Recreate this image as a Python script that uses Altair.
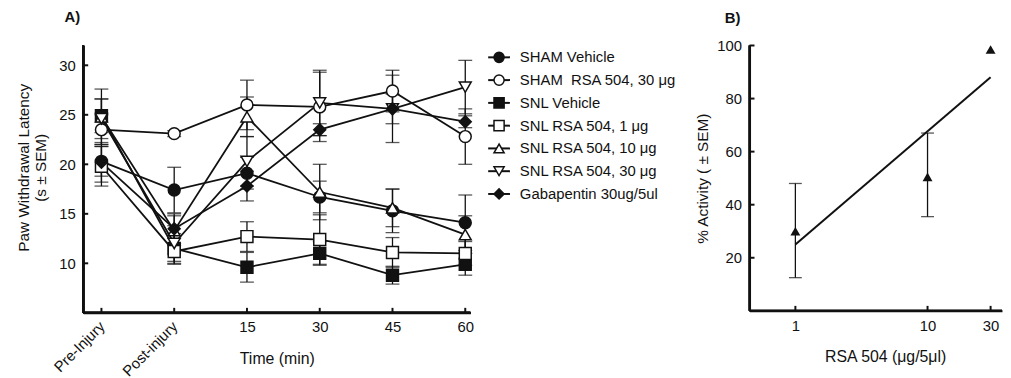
import json
import altair as alt
import pandas as pd

FONT = "Liberation Sans"
INK = "#111111"

# ---------------- Panel A data ----------------
time_pos = [0, 1, 2, 3, 4, 5]
time_labels = ["Pre-Injury", "Post-injury", "15", "30", "45", "60"]

series_names = [
    "SHAM Vehicle",
    "SHAM\u00a0 RSA 504, 30 μg",
    "SNL Vehicle",
    "SNL RSA 504, 1 μg",
    "SNL RSA 504, 10 μg",
    "SNL RSA 504, 30 μg",
    "Gabapentin 30ug/5ul",
]
series_shapes = ["circle", "circle", "square", "square", "triangle-up", "triangle-down", "diamond"]
series_fills = [INK, "white", INK, "white", "white", "white", INK]

sham_vehicle_mean = [20.3, 17.4, 19.1, 16.7, 15.3, 14.1]
sham_vehicle_sem = [1.5, 2.3, 1.6, 1.6, 2.2, 2.8]
sham_rsa30_mean = [23.5, 23.1, 26.0, 25.8, 27.4, 22.8]
sham_rsa30_sem = [1.5, 0.3, 2.5, 3.5, 2.1, 2.8]
snl_vehicle_mean = [24.9, 11.5, 9.6, 11.0, 8.8, 9.9]
snl_vehicle_sem = [1.7, 1.5, 1.5, 1.2, 0.9, 1.1]
snl_rsa1_mean = [19.8, 11.2, 12.7, 12.4, 11.1, 11.0]
snl_rsa1_sem = [2.0, 1.3, 1.5, 2.5, 1.5, 1.2]
snl_rsa10_mean = [24.8, 13.3, 24.8, 17.2, 15.6, 12.9]
snl_rsa10_sem = [2.8, 1.5, 2.0, 2.8, 1.9, 1.9]
snl_rsa30_mean = [24.6, 12.0, 20.3, 26.2, 25.6, 27.8]
snl_rsa30_sem = [2.0, 1.8, 2.5, 3.3, 1.5, 2.7]
gabapentin_mean = [20.2, 13.5, 17.8, 23.5, 25.6, 24.3]
gabapentin_sem = [2.0, 1.5, 1.5, 0.6, 3.4, 0.6]

a_yticks = [10, 15, 20, 25, 30]

# ---------------- Panel B data ----------------
doses = [1, 10, 30]
activity = [30.0, 50.5, 98.5]
activity_lo = [12.5, 35.5, None]
activity_hi = [48.0, 67.0, None]
fit_dose = [1, 30]
fit_activity = [25.0, 88.0]
b_yticks = [20, 40, 60, 80, 100]

# ---------------- tables ----------------
means = [sham_vehicle_mean, sham_rsa30_mean, snl_vehicle_mean, snl_rsa1_mean,
         snl_rsa10_mean, snl_rsa30_mean, gabapentin_mean]
sems = [sham_vehicle_sem, sham_rsa30_sem, snl_vehicle_sem, snl_rsa1_sem,
        snl_rsa10_sem, snl_rsa30_sem, gabapentin_sem]

rows = []
for name, m, s in zip(series_names, means, sems):
    for t, v, e in zip(time_pos, m, s):
        rows.append({"series": name, "t": t, "v": v, "lo": v - e, "hi": v + e})
df_a = pd.DataFrame(rows)
caps_a = pd.concat([
    df_a[["series", "t", "lo"]].rename(columns={"lo": "v"}),
    df_a[["series", "t", "hi"]].rename(columns={"hi": "v"}),
])
xt_a = pd.DataFrame({"t": time_pos})
yt_a = pd.DataFrame({"v": a_yticks})
rot_a = pd.DataFrame({"t": time_pos[:2], "label": time_labels[:2]})

df_b = pd.DataFrame({"d": doses, "v": activity, "lo": activity_lo, "hi": activity_hi})
df_b_err = df_b.dropna()
caps_b = pd.concat([
    df_b_err[["d", "lo"]].rename(columns={"lo": "v"}),
    df_b_err[["d", "hi"]].rename(columns={"hi": "v"}),
])
fit_b = pd.DataFrame({"d": fit_dose, "v": fit_activity})
xt_b = pd.DataFrame({"d": doses})
yt_b = pd.DataFrame({"v": b_yticks})

legend_df = pd.DataFrame({
    "series": series_names,
    "row": list(range(len(series_names))),
})

# ---------------- shared styles ----------------
shape_scale = alt.Scale(domain=series_names, range=series_shapes)
fill_scale = alt.Scale(domain=series_names, range=series_fills)

A_W, A_H = 391, 270
B_W, B_H = 255, 268

xa_scale = alt.Scale(domain=[-0.25, 5.07], nice=False, zero=False)
ya_scale = alt.Scale(domain=[5, 32], nice=False, zero=False)

label_expr = json.dumps(time_labels) + "[datum.value]"

xa_axis = alt.Axis(
    values=time_pos[2:], labelExpr=label_expr, labelAngle=0, tickSize=0,
    labelPadding=7, grid=False, title="Time (min)", titleY=51, domain=True,
    titleFontSize=16, titleBaseline="alphabetic",
)
ya_axis = alt.Axis(
    values=a_yticks, tickSize=0, labelPadding=8, grid=False, domain=True,
    title=["Paw Withdrawal Latency", "(s ± SEM)"], titleLineHeight=18,
    titlePadding=10, titleY=123, titleFontSize=15.5,
)

x_a = alt.X("t:Q", scale=xa_scale)
y_a = alt.Y("v:Q", scale=ya_scale)

err_a = alt.Chart(df_a).mark_rule(color=INK, strokeWidth=1.3).encode(
    x=alt.X("t:Q", scale=xa_scale, axis=xa_axis),
    y=alt.Y("lo:Q", scale=ya_scale, axis=ya_axis),
    y2="hi:Q",
)
cap_a = alt.Chart(caps_a).mark_tick(color=INK, orient="horizontal", size=14, thickness=1.3).encode(
    x=x_a, y=y_a
)
line_a = alt.Chart(df_a).mark_line(color=INK, strokeWidth=1.8).encode(
    x=x_a, y=y_a, detail="series:N"
)
pts_a = alt.Chart(df_a).mark_point(filled=True, stroke=INK, strokeWidth=1.5, opacity=1, size=145).encode(
    x=x_a, y=y_a,
    shape=alt.Shape("series:N", scale=shape_scale, legend=None),
    fill=alt.Fill("series:N", scale=fill_scale, legend=None),
)
xtick_a = alt.Chart(xt_a).mark_rule(color=INK, strokeWidth=2).encode(
    x=x_a, y=alt.value(A_H - 5), y2=alt.value(A_H),
)
ytick_a = alt.Chart(yt_a).mark_rule(color=INK, strokeWidth=2).encode(
    y=y_a, x=alt.value(0), x2=alt.value(5),
)
xdom_a = alt.Chart(xt_a).mark_rule(color=INK, strokeWidth=2).encode(
    x=alt.value(0), x2=alt.value(A_W), y=alt.value(A_H),
)
ydom_a = alt.Chart(xt_a).mark_rule(color=INK, strokeWidth=2).encode(
    x=alt.value(0), y=alt.value(0), y2=alt.value(A_H),
)
rot_lab_a = alt.Chart(rot_a).mark_text(
    angle=315, align="right", baseline="top", font=FONT, fontSize=15, color=INK,
    dx=-4, dy=-2,
).encode(
    x=x_a, y=alt.value(A_H + 5), text="label:N",
)

panel_a = alt.layer(err_a, cap_a, line_a, pts_a, xtick_a, ytick_a, xdom_a, ydom_a, rot_lab_a).properties(
    width=A_W, height=A_H,
    title=alt.TitleParams("A)", anchor="start", frame="group", dx=-19, fontSize=15,
                          fontWeight="bold", font=FONT, color=INK, offset=20),
)

# ---------------- legend panel ----------------
L_W = 223
row_scale = alt.Scale(domain=[-0.52, 11.22], reverse=True, nice=False, zero=False)
leg_y = alt.Y("row:Q", scale=row_scale, axis=None)
leg_line = alt.Chart(legend_df).mark_rule(color=INK, strokeWidth=2).encode(
    y=leg_y, x=alt.value(14), x2=alt.value(36)
)
leg_pts = alt.Chart(legend_df).mark_point(filled=True, stroke=INK, strokeWidth=1.5, opacity=1, size=105).encode(
    y=leg_y, x=alt.value(25),
    shape=alt.Shape("series:N", scale=shape_scale, legend=None),
    fill=alt.Fill("series:N", scale=fill_scale, legend=None),
)
leg_txt = alt.Chart(legend_df).mark_text(align="left", baseline="middle", font=FONT,
                                         fontSize=15, color=INK).encode(
    y=leg_y, x=alt.value(46), text="series:N"
)
legend_panel = alt.layer(leg_line, leg_pts, leg_txt).properties(width=L_W, height=A_H)

# ---------------- Panel B ----------------
xb_scale = alt.Scale(type="log", domain=[0.45, 36.6], nice=False)
yb_scale = alt.Scale(domain=[0, 100], nice=False, zero=False)
xb_axis = alt.Axis(values=doses, format="d", tickSize=0, labelPadding=8, grid=False,
                   title="RSA 504 (μg/5μl)", titleY=51, titleX=137, titleFontSize=16,
                   titleBaseline="alphabetic", domain=True)
yb_axis = alt.Axis(values=b_yticks, tickSize=0, labelPadding=8, grid=False, domain=True,
                   title="% Activity ( ± SEM)", titlePadding=6, titleFontSize=15.5)

x_b = alt.X("d:Q", scale=xb_scale)
y_b = alt.Y("v:Q", scale=yb_scale)

err_b = alt.Chart(df_b_err).mark_rule(color=INK, strokeWidth=1.3).encode(
    x=alt.X("d:Q", scale=xb_scale, axis=xb_axis),
    y=alt.Y("lo:Q", scale=yb_scale, axis=yb_axis),
    y2="hi:Q",
)
cap_b = alt.Chart(caps_b).mark_tick(color=INK, orient="horizontal", size=13, thickness=1.3).encode(
    x=x_b, y=y_b
)
fit_line = alt.Chart(fit_b).mark_line(color=INK, strokeWidth=2).encode(x=x_b, y=y_b)
pts_b = alt.Chart(df_b).mark_point(shape="triangle-up", filled=True, color=INK, opacity=1, size=100).encode(
    x=x_b, y=y_b
)
xtick_b = alt.Chart(xt_b).mark_rule(color=INK, strokeWidth=2).encode(
    x=x_b, y=alt.value(B_H - 5), y2=alt.value(B_H)
)
ytick_b = alt.Chart(yt_b).mark_rule(color=INK, strokeWidth=2).encode(
    y=y_b, x=alt.value(0), x2=alt.value(5)
)
xdom_b = alt.Chart(xt_b).mark_rule(color=INK, strokeWidth=2).encode(
    x=alt.value(0), x2=alt.value(B_W), y=alt.value(B_H),
)
ydom_b = alt.Chart(xt_b).mark_rule(color=INK, strokeWidth=2).encode(
    x=alt.value(0), y=alt.value(0), y2=alt.value(B_H),
)
panel_b = alt.layer(err_b, cap_b, fit_line, pts_b, xtick_b, ytick_b, xdom_b, ydom_b).properties(
    width=B_W, height=B_H,
    title=alt.TitleParams("B)", anchor="start", frame="group", dx=-25, fontSize=15,
                          fontWeight="bold", font=FONT, color=INK, offset=12.5),
)

chart = alt.hconcat(panel_a, legend_panel, panel_b, spacing=0).properties(
    padding={"left": 8, "top": 0, "right": 0, "bottom": 0}
).configure_view(stroke=None).configure_axis(
    domainColor=INK, domainWidth=2, labelColor=INK, titleColor=INK,
    labelFont=FONT, titleFont=FONT, labelFontSize=15, titleFontSize=15,
    titleFontWeight="normal",
)

chart.save("out.html", embed_options={"renderer": "svg", "actions": False})
